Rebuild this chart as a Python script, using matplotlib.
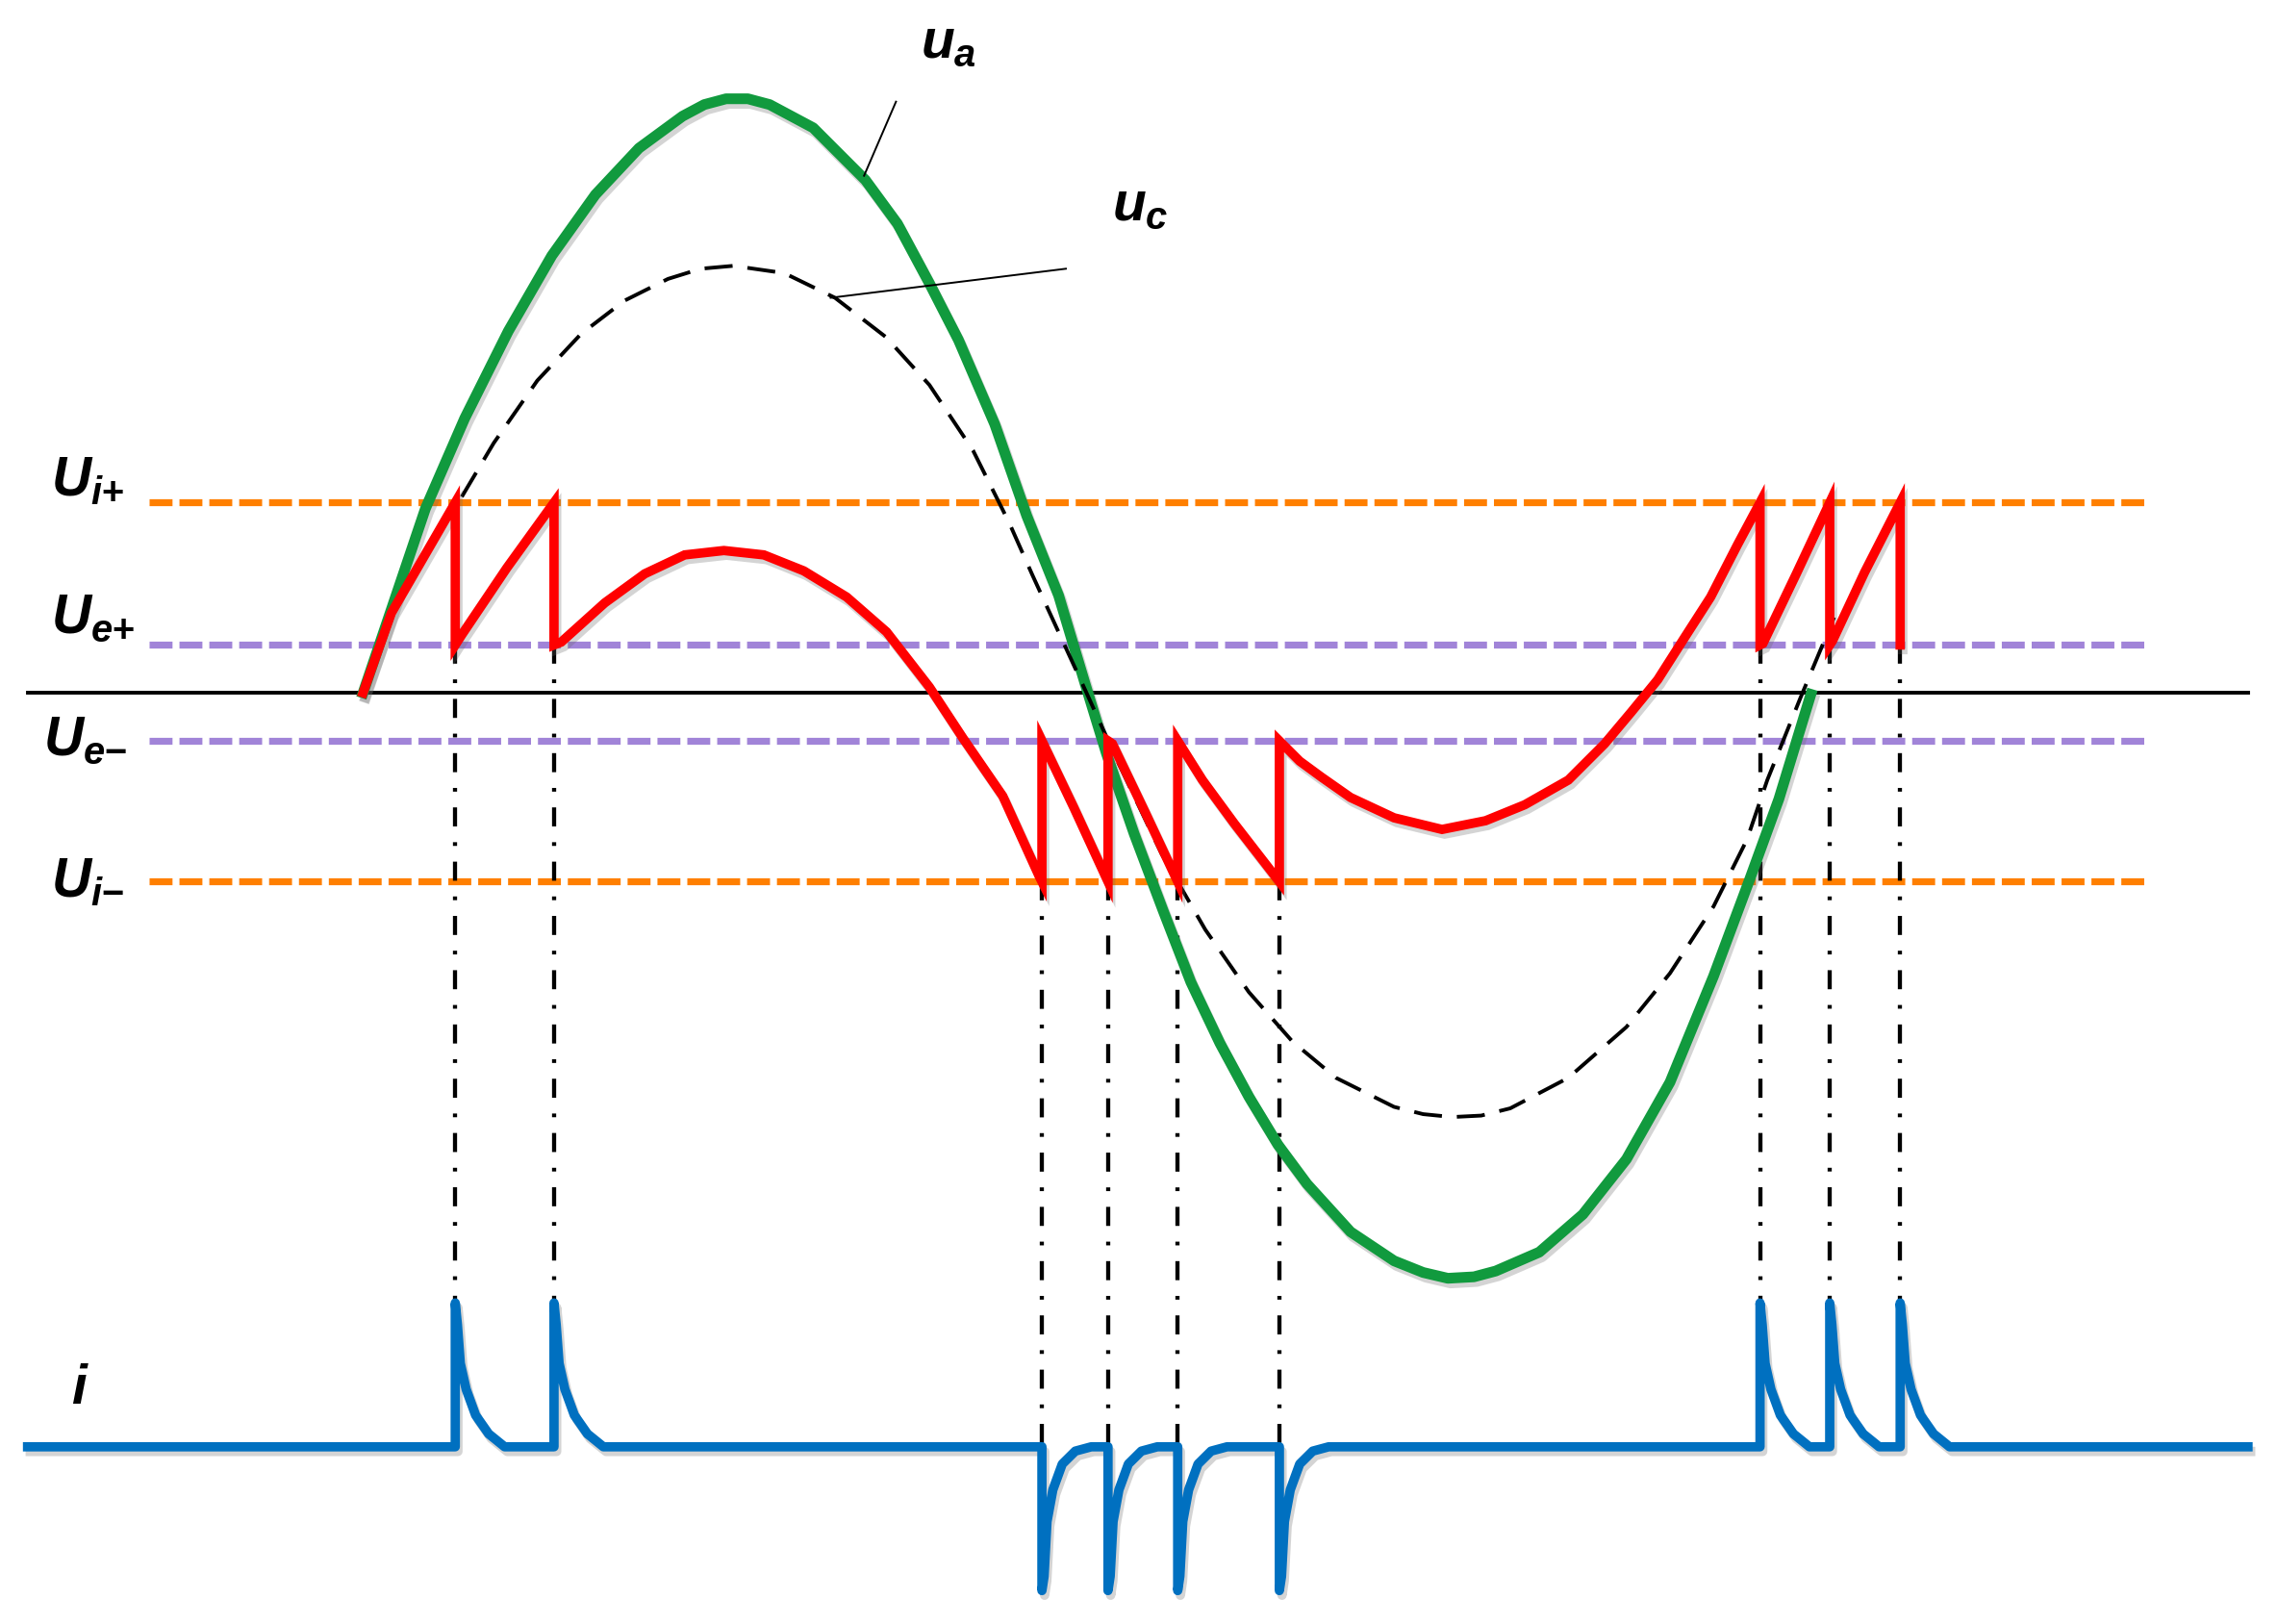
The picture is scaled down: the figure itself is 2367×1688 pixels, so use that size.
import numpy as np
import matplotlib
matplotlib.use('Agg')
import matplotlib.pyplot as plt
import matplotlib.patheffects as pe

plt.rcParams['mathtext.fontset'] = 'custom'
plt.rcParams['mathtext.it'] = 'Liberation Sans:bold:italic'
plt.rcParams['mathtext.rm'] = 'Liberation Sans:bold'
plt.rcParams['mathtext.bf'] = 'Liberation Sans:bold'

# time in ms (0 = first zero crossing of u_a), voltage in arbitrary units
# threshold levels
U_I_POS, U_E_POS = 131, 33
U_E_NEG, U_I_NEG = -33, -130

# source voltage u_a (green)
t_ua = [0, 0.4, 0.86, 1.4, 2.0, 2.6, 3.2, 3.8, 4.4, 4.7, 5.0, 5.3, 5.6, 6.2, 6.92, 7.36,
        7.8, 8.2, 8.7, 9.14, 9.58, 9.94, 10.24, 10.62, 11.02, 11.4, 11.8, 12.2,
        12.6, 13.0, 13.6, 14.2, 14.6, 14.94, 15.3, 15.6, 16.2, 16.8, 17.4, 18.0, 18.6, 19.1,
        19.5, 19.94]
u_ua = [0, 59, 127, 189, 249, 301, 343, 375, 397, 405, 409, 409, 405, 389, 353, 323,
        282, 243, 185, 122, 67, 7, -42, -97, -150, -199, -241, -278,
        -311, -338, -371, -391, -399, -403, -402, -398, -385, -359, -321, -268, -195, -128,
        -73, -1]

# capacitor voltage u_c (black dashed)
t_uc = [1.36, 1.8, 2.4, 3.0, 3.6, 4.2, 4.65, 5.1, 5.8, 6.5, 7.2, 7.8, 8.4, 8.9, 9.22,
        9.44, 9.9, 10.4, 11.0, 11.6, 12.2, 12.8, 13.4, 14.2, 14.6, 15.0, 15.4, 15.8, 16.6,
        17.4, 18.0, 18.6, 18.84, 19.06, 19.34, 19.8, 20.26]
u_uc = [135, 172, 215, 247, 270, 285, 292, 294, 289, 272, 245, 212, 167, 117, 81,
        57, 7, -48, -111, -163, -206, -240, -265, -285, -290, -292, -291, -286, -265,
        -230, -193, -147, -123, -101, -60, -3, 52]

# gap voltage (red)
t_gap = [0, 0.39, 1.27, 1.27, 1.36, 1.98, 2.63, 2.63,
         2.73, 3.33, 3.88, 4.43, 4.97, 5.52, 6.07, 6.66, 7.21, 7.8, 8.26, 8.81, 9.31, 9.35, 9.35,
         9.79, 10.26, 10.26, 10.32, 10.77, 11.22, 11.22,
         11.56, 12.0, 12.62, 12.62,
         12.9, 13.2, 13.6, 14.2, 14.86, 15.46, 16.0, 16.6, 17.1, 17.47, 17.83,
         18.2, 18.56, 18.93, 19.24, 19.24,
         19.28, 19.74, 20.2, 20.2, 20.24, 20.68, 21.17, 21.17]
u_gap = [0, 55, 131, 33, 40, 86, 131, 33,
         35, 62, 82, 95, 98, 95, 84, 66, 42, 4, -31, -71, -126, -130, -33,
         -79, -130, -33, -35, -82, -130, -33,
         -60, -90, -130, -33,
         -47, -58, -72, -86, -94, -88, -77, -60, -35, -13, 9,
         38, 66, 102, 131, 33,
         34, 82, 131, 33, 36, 83, 131, 33]

# switching instants
t_pos = [1.27, 2.63, 19.24, 20.2, 21.17]
t_neg = [9.35, 10.26, 11.22, 12.62]

# current pulse shape (relative amplitude)
pulse_dt = [0, 0, 0.03, 0.07, 0.15, 0.28, 0.46, 0.68]
pulse_pos = [0, 1, 0.85, 0.58, 0.4, 0.22, 0.09, 0]
pulse_neg = [0, 1, 0.9, 0.52, 0.3, 0.12, 0.03, 0]

T_START, T_END = -4.62, 25.96
T_GUIDE0, T_GUIDE1 = -2.94, 24.56
I_BASE, I_SCALE = -519, 99

c_green = '#119a3e'
c_red = '#ff0000'
c_blue = '#0070c0'
c_orange = '#ff7f00'
c_purple = '#a184d8'

shadow = [pe.SimpleLineShadow(offset=(2, -3.5), shadow_color='0.4', alpha=0.28),
          pe.Normal()]

fig = plt.figure(figsize=(23.67, 16.88), dpi=100)
ax = fig.add_axes([0, 0, 1, 1])
ax.set_xlim(-5, 26.36)
ax.set_ylim(-641, 477)
ax.axis('off')

# threshold lines
for lvl, col in [(U_I_POS, c_orange), (U_E_POS, c_purple),
                 (U_E_NEG, c_purple), (U_I_NEG, c_orange)]:
    ax.plot([T_GUIDE0, T_GUIDE1], [lvl, lvl], color=col, lw=5.2,
            linestyle=(0, (3.3, 1.0)), zorder=1)

# time axis
ax.plot([T_START, T_END], [0, 0], color='black', lw=2.8, zorder=2)

# dash-dot projection lines
dashdot = (0, (4.6, 3.8, 0.9, 3.8))
for t0 in t_pos:
    ax.plot([t0, t0], [U_E_POS, I_BASE], color='black', lw=3.1,
            linestyle=dashdot, zorder=3)
for t0 in t_neg:
    ax.plot([t0, t0], [U_I_NEG, I_BASE], color='black', lw=3.1,
            linestyle=dashdot, zorder=3)

ax.plot(t_ua, u_ua, color=c_green, lw=8, zorder=4, path_effects=shadow,
        solid_joinstyle='round')
ax.plot(t_uc, u_uc, color='black', lw=2.8, linestyle=(0, (7.5, 4)), zorder=5)
ax.plot(t_gap, u_gap, color=c_red, lw=7, zorder=6, path_effects=shadow,
        solid_joinstyle='miter')

# current trace
events = sorted([(t, 1) for t in t_pos] + [(t, -1) for t in t_neg])
i_t, i_v = [T_START], [0.0]
for t0, sgn in events:
    shape = pulse_pos if sgn > 0 else pulse_neg
    for dt, h in zip(pulse_dt, shape):
        i_t.append(t0 + dt)
        i_v.append(sgn * h)
i_t.append(T_END)
i_v.append(0.0)
ax.plot(i_t, I_BASE + I_SCALE * np.array(i_v), color=c_blue, lw=7,
        zorder=7, path_effects=shadow, solid_joinstyle='round')

# pointer lines
ax.plot([6.9, 7.34], [356, 407], color='black', lw=1.4, zorder=5)
ax.plot([6.44, 9.68], [272, 292], color='black', lw=1.4, zorder=5)

fs = 41
lab = dict(fontsize=fs, ha='left', va='baseline', color='black')
ax.text(-4.3, 136, r'$U_{i{+}}$', **lab)
ax.text(-4.3, 41, r'$U_{e{+}}$', **lab)
ax.text(-4.4, -43, r'$U_{e{-}}$', **lab)
ax.text(-4.3, -140, r'$U_{i{-}}$', **lab)
ax.text(-4.02, -489, r'$i$', **lab)
ax.text(7.68, 437, r'$u_a$', **lab)
ax.text(10.32, 325, r'$u_c$', **lab)

fig.savefig('out.png', dpi=100)
